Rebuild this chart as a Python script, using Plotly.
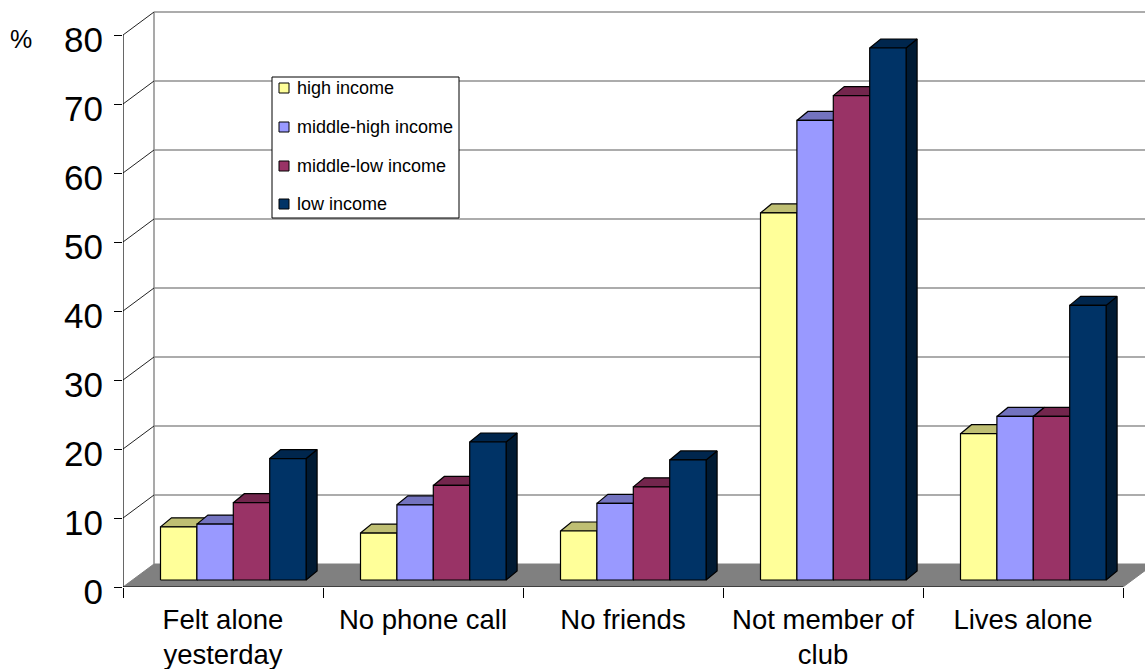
import plotly.graph_objects as go

# ---------------- data ----------------
categories = ["Felt alone<br>yesterday", "No phone call", "No friends",
              "Not member of<br>club", "Lives alone"]
series_names = ["high income", "middle-high income", "middle-low income", "low income"]
high_income = [7.7, 6.8, 7.1, 53.2, 21.2]
middle_high_income = [8.1, 10.9, 11.1, 66.6, 23.7]
middle_low_income = [11.2, 13.7, 13.5, 70.2, 23.7]
low_income = [17.6, 20.0, 17.4, 77.1, 39.8]
y_ticks = [0, 10, 20, 30, 40, 50, 60, 70, 80]
y_unit_label = "%"

series_values = [high_income, middle_high_income, middle_low_income, low_income]

# ---------------- styles ----------------
front_colors = ["#FFFF99", "#9999FF", "#993366", "#003366"]
top_colors = ["#BFBF73", "#7373BF", "#73264D", "#00264D"]
side_colors = ["#80804D", "#4D4D80", "#4D1A33", "#001A33"]
FONT = "Liberation Sans, Arial, sans-serif"

W, H = 1145, 669
ML, MR, MT, MB = 123, 0, 10, 82
PX_X = 200.0   # pixels per category on the front plane
PX_Y = 6.9     # pixels per value unit
x_range = [0, (W - ML - MR) / PX_X]
y_range = [0, (H - MT - MB) / PX_Y]

# oblique "3-D" offsets, in axis units
WALL_DX, WALL_DY = 31 / PX_X, 23 / PX_Y
BAR_X0, BAR_W, BASE = 37.5 / PX_X, 36.4 / PX_X, 7 / PX_Y
DEPTH_DX, DEPTH_DY = 11 / PX_X, 9 / PX_Y

n = len(categories)
ymax = y_ticks[-1]
fig = go.Figure()

# floor
fig.add_trace(go.Scatter(
    x=[0, n, n + WALL_DX, WALL_DX, 0], y=[0, 0, WALL_DY, WALL_DY, 0],
    mode="lines", fill="toself", fillcolor="#808080",
    line=dict(color="#808080", width=1), hoverinfo="skip", showlegend=False))

# back wall gridlines
gx, gy = [], []
for v in y_ticks[1:]:
    gx += [WALL_DX, n + WALL_DX, None]
    gy += [v + WALL_DY, v + WALL_DY, None]
fig.add_trace(go.Scatter(x=gx, y=gy, mode="lines",
                         line=dict(color="#5a5a5a", width=1.2),
                         hoverinfo="skip", showlegend=False))
# back wall left edge
fig.add_trace(go.Scatter(x=[WALL_DX, WALL_DX], y=[WALL_DY, ymax + WALL_DY], mode="lines",
                         line=dict(color="#8c8c8c", width=1.5),
                         hoverinfo="skip", showlegend=False))
# side wall diagonals
dx, dy = [], []
for v in y_ticks[1:]:
    dx += [0, WALL_DX, None]
    dy += [v, v + WALL_DY, None]
fig.add_trace(go.Scatter(x=dx, y=dy, mode="lines",
                         line=dict(color="#222222", width=1),
                         hoverinfo="skip", showlegend=False))

# bars: side, top, front for each series (painter's order left to right)
for j, vals in enumerate(series_values):
    sx, sy, tx, ty, fx, fy = [], [], [], [], [], []
    for i, v in enumerate(vals):
        x0 = i + BAR_X0 + j * BAR_W
        x1 = x0 + BAR_W
        b = BASE
        t = BASE + v
        sx += [x1, x1 + DEPTH_DX, x1 + DEPTH_DX, x1, x1, None]
        sy += [b, b + DEPTH_DY, t + DEPTH_DY, t, b, None]
        tx += [x0, x1, x1 + DEPTH_DX, x0 + DEPTH_DX, x0, None]
        ty += [t, t, t + DEPTH_DY, t + DEPTH_DY, t, None]
        fx += [x0, x1, x1, x0, x0, None]
        fy += [b, b, t, t, b, None]
    for xs, ys, col in ((sx, sy, side_colors[j]), (tx, ty, top_colors[j]),
                        (fx, fy, front_colors[j])):
        fig.add_trace(go.Scatter(x=xs, y=ys, mode="lines", fill="toself",
                                 fillcolor=col, line=dict(color="black", width=1.2),
                                 name=series_names[j], hoverinfo="skip",
                                 showlegend=False))

# front axis lines
fig.add_trace(go.Scatter(x=[0, 0], y=[0, ymax], mode="lines",
                         line=dict(color="black", width=1.2), cliponaxis=False,
                         hoverinfo="skip", showlegend=False))
fig.add_trace(go.Scatter(x=[0, n], y=[0, 0], mode="lines",
                         line=dict(color="black", width=1.2), cliponaxis=False,
                         hoverinfo="skip", showlegend=False))

# ---------------- manual legend ----------------
plot_w = W - ML - MR
plot_h = H - MT - MB


def px(xp):
    return (xp - ML) / plot_w


def py(yp):
    return (H - MB - yp) / plot_h


shapes = [dict(type="rect", xref="paper", yref="paper",
               x0=px(272), x1=px(459), y0=py(218), y1=py(77),
               line=dict(color="black", width=1), fillcolor="white", layer="above")]
annotations = []
entry_y = [88, 127, 166, 204]
for j, name in enumerate(series_names):
    yc = entry_y[j]
    shapes.append(dict(type="rect", xref="paper", yref="paper",
                       x0=px(279), x1=px(289), y0=py(yc + 5), y1=py(yc - 5),
                       line=dict(color="black", width=1), fillcolor=front_colors[j],
                       layer="above"))
    annotations.append(dict(text=name, xref="paper", yref="paper",
                            x=px(295), y=py(yc), xanchor="left", yanchor="middle",
                            showarrow=False, font=dict(size=18, family=FONT, color="black")))

annotations.append(dict(text=y_unit_label, xref="paper", yref="paper",
                        x=px(21), y=py(39), xanchor="center", yanchor="middle",
                        showarrow=False, font=dict(size=25, family=FONT, color="black")))

fig.update_layout(
    width=W, height=H,
    margin=dict(l=ML, r=MR, t=MT, b=MB, pad=0),
    paper_bgcolor="white", plot_bgcolor="white",
    showlegend=False,
    shapes=shapes, annotations=annotations,
    font=dict(family=FONT, color="black"),
    xaxis=dict(range=x_range, showgrid=False, zeroline=False, showline=False,
               tickmode="array", tickvals=[i + 0.5 for i in range(n)], ticktext=categories,
               ticks="", tickfont=dict(size=27.5, family=FONT, color="black"),
               ticklabelstandoff=13,
               minor=dict(tickmode="array", tickvals=list(range(n + 1)), ticks="outside",
                          ticklen=10, tickcolor="black", tickwidth=1.2, showgrid=False),
               fixedrange=True),
    yaxis=dict(range=y_range, showgrid=False, zeroline=False, showline=False,
               tickmode="array", tickvals=y_ticks, ticks="outside", ticklen=8,
               tickcolor="black", tickwidth=1.2,
               tickfont=dict(size=35, family=FONT, color="black"),
               ticklabelstandoff=4, ticklabelshift=5, fixedrange=True),
)

fig.write_html("out.html", config={"displayModeBar": False},
               post_script="document.body.style.margin='0';")
